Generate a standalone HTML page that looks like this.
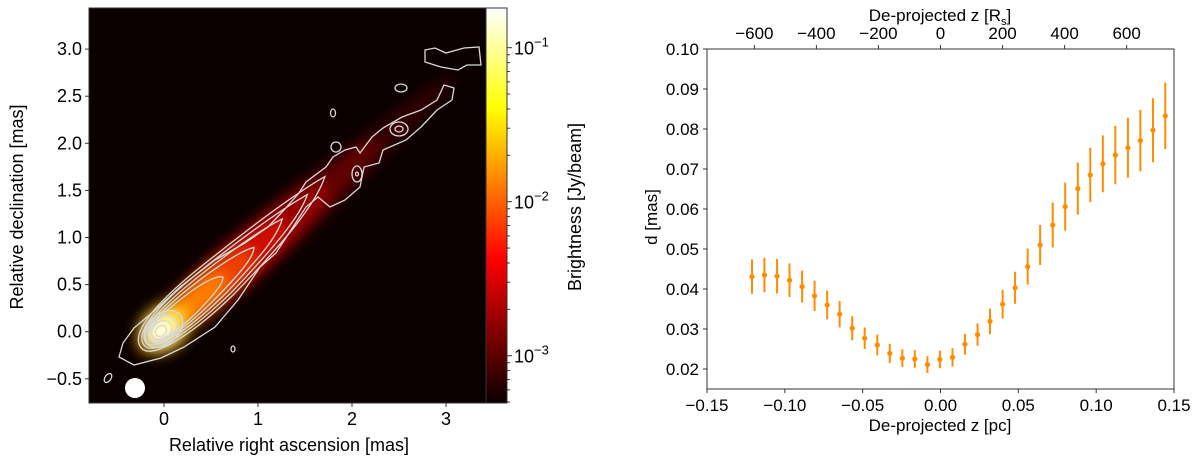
<!DOCTYPE html>
<html><head><meta charset="utf-8"><style>
html,body{margin:0;padding:0;background:#fff;}
svg{display:block;font-family:"Liberation Sans","DejaVu Sans",sans-serif;}
</style></head><body>
<svg id="fig" width="1200" height="465" viewBox="0 0 1200 465" xmlns="http://www.w3.org/2000/svg">
<defs>
<clipPath id="imgclip"><rect x="89" y="8" width="397" height="395"/></clipPath>
<filter id="blur" x="-50%" y="-50%" width="200%" height="200%"><feGaussianBlur stdDeviation="7"/></filter>
<filter id="blur2" x="-50%" y="-50%" width="200%" height="200%"><feGaussianBlur stdDeviation="3"/></filter>
<linearGradient id="hot" x1="0" y1="0" x2="0" y2="1">
<stop offset="0" stop-color="#ffffff"/><stop offset="0.254" stop-color="#ffff00"/>
<stop offset="0.635" stop-color="#ff0000"/><stop offset="1" stop-color="#0a0000"/>
</linearGradient>
</defs>
<g clip-path="url(#imgclip)">
<rect x="89" y="8" width="397" height="395" fill="#0a0000"/>
<g transform="translate(161,331) rotate(-41)" filter="url(#blur)">
<ellipse cx="190" cy="0" rx="200" ry="16" fill="#300000"/>
<ellipse cx="130" cy="0" rx="160" ry="22" fill="#600000"/>
<ellipse cx="100" cy="0" rx="120" ry="22" fill="#9a0000"/>
<ellipse cx="75" cy="0" rx="90" ry="21" fill="#d01000"/>
<ellipse cx="55" cy="0" rx="65" ry="18" fill="#f04000"/>
<ellipse cx="45" cy="0" rx="40" ry="13" fill="#ff8000"/>
<ellipse cx="5" cy="0" rx="30" ry="22" fill="#ffb000"/>
<ellipse cx="2" cy="0" rx="20" ry="16" fill="#ffff50"/>
<ellipse cx="0" cy="0" rx="11" ry="9" fill="#ffffff"/>
</g>
<g filter="url(#blur2)">
<ellipse cx="357" cy="174" rx="5" ry="6" fill="#400000"/>
<ellipse cx="400" cy="129" rx="9" ry="6" fill="#400000"/>
</g>
<g fill="none" stroke="#d8d8d8" stroke-width="1.3">
<polygon points="123,343 134,328 153,312 180,287 215,260 245,243 268,227 284,210 299,193 306,182 326,167 333,157 345,150 356,147 360,153 372,137 383,128 402,117 421,110 437,100 444,85 454,88 452,100 437,110 421,127 406,140 383,150 379,163 364,167 360,187 345,200 330,207 318,197 306,207 291,230 276,253 260,267 238,300 215,327 184,347 161,358 134,365 119,357"/>
<polygon points="425,50 435,48 446,53 464,48 479,47 481,65 467,65 458,70 441,67 425,62"/>
<ellipse cx="357" cy="174" rx="5" ry="8"/>
<ellipse cx="357" cy="174" rx="1.5" ry="2"/>
<ellipse cx="399" cy="129" rx="9" ry="7"/>
<ellipse cx="399" cy="129" rx="4" ry="3"/>
<ellipse cx="333" cy="113" rx="2.5" ry="4"/>
<ellipse cx="401" cy="88" rx="6" ry="4"/>
<ellipse cx="336" cy="147" rx="5" ry="5"/>
<ellipse cx="233" cy="349" rx="2" ry="3"/>
<ellipse cx="108" cy="378" rx="3" ry="5" transform="rotate(35 108 378)"/>
<g transform="translate(161,331) rotate(-41)">
<path d="M-26,0 C-26,-20 20,-25 80,-22 C150,-19 200,-14 225,-9 C200,6 150,14 80,20 C30,23 -26,18 -26,0Z"/>
<path d="M-22,0 C-22,-18 20,-22 80,-19 C140,-16 180,-11 200,-7 C180,5 140,11 80,17 C30,20 -22,16 -22,0Z"/>
<path d="M-18,0 C-18,-16 20,-19 75,-16 C125,-13 150,-9 165,-5 C150,5 125,9 75,14 C30,17 -18,14 -18,0Z"/>
<path d="M-14,0 C-14,-14 20,-16 65,-13 C100,-10 118,-6 125,-2 C118,5 100,8 65,11 C30,14 -14,12 -14,0Z"/>
<path d="M-10,0 C-10,-12 15,-13 50,-10 C70,-8 80,-4 82,0 C78,5 65,7 45,9 C20,11 -10,10 -10,0Z"/>
<ellipse cx="3" cy="0" rx="22" ry="15"/>
<ellipse cx="2" cy="0" rx="16" ry="12"/>
<ellipse cx="1" cy="0" rx="11" ry="8.5"/>
<ellipse cx="0" cy="0" rx="6" ry="5"/>
</g>
</g>
<circle cx="135" cy="388" r="10" fill="#ffffff"/>
</g>
<rect x="89" y="8" width="397" height="395" fill="none" stroke="#333" stroke-width="1"/>
<g id="leftAxes" font-size="18" fill="#000"></g>
<text x="289" y="451" font-size="18" text-anchor="middle">Relative right ascension [mas]</text>
<text transform="translate(23,207) rotate(-90)" font-size="18" text-anchor="middle">Relative declination [mas]</text>
<rect x="486" y="8" width="21" height="395" fill="url(#hot)" stroke="#333" stroke-width="1"/>
<g id="cbAxis" font-size="18"></g>
<text transform="translate(581,207) rotate(-90)" font-size="18" text-anchor="middle">Brightness [Jy/beam]</text>

<rect x="707" y="49" width="467" height="340" fill="none" stroke="#333" stroke-width="1"/>
<g id="rightAxes" font-size="17"></g>
<g id="series"></g>
<text x="940" y="431" font-size="17" text-anchor="middle">De-projected z [pc]</text>
<text x="940" y="21" font-size="17" text-anchor="middle">De-projected z [R<tspan font-size="11" dy="4">s</tspan><tspan dy="-4">]</tspan></text>
<text transform="translate(657,217) rotate(-90)" font-size="17" text-anchor="middle">d [mas]</text>
</svg>
<script>
const zPc = [-0.1211,-0.1131,-0.1050,-0.0970,-0.0889,-0.0809,-0.0728,-0.0648,-0.0567,-0.0487,-0.0406,-0.0326,-0.0245,-0.0165,-0.0084,-0.0004,0.0077,0.0157,0.0238,0.0318,0.0399,0.0479,0.0560,0.0640,0.0721,0.0801,0.0882,0.0962,0.1043,0.1123,0.1204,0.1284,0.1365,0.1444];
const dMas = [0.0431,0.0435,0.0432,0.0422,0.0406,0.0383,0.0360,0.0337,0.0302,0.0277,0.0260,0.0239,0.0227,0.0225,0.0211,0.0224,0.0229,0.0262,0.0286,0.0319,0.0362,0.0403,0.0456,0.0510,0.0560,0.0606,0.0651,0.0685,0.0713,0.0735,0.0753,0.0771,0.0797,0.0833];
const dErr = [0.0043,0.0043,0.0043,0.0042,0.0040,0.0038,0.0036,0.0033,0.0030,0.0027,0.0026,0.0024,0.0022,0.0022,0.0021,0.0022,0.0023,0.0026,0.0028,0.0032,0.0036,0.0040,0.0045,0.0050,0.0056,0.0060,0.0065,0.0068,0.0071,0.0073,0.0075,0.0077,0.0080,0.0083];
const xTicksPc = [-0.15,-0.10,-0.05,0.00,0.05,0.10,0.15];
const xTickLabels = ["\u22120.15","\u22120.10","\u22120.05","0.00","0.05","0.10","0.15"];
const yTicksD = [0.02,0.03,0.04,0.05,0.06,0.07,0.08,0.09,0.10];
const topTicksRs = [-600,-400,-200,0,200,400,600];
const leftXTicks = [0,1,2,3];
const leftYTicks = [-0.5,0.0,0.5,1.0,1.5,2.0,2.5,3.0];
const cbTicksExp = [-1,-2,-3];

const NS = "http://www.w3.org/2000/svg";
function mk(tag, attrs, parent){const e=document.createElementNS(NS,tag);for(const k in attrs)e.setAttribute(k,attrs[k]);parent.appendChild(e);return e;}
const minus = s => s.replace('-', '\u2212');

const X = v => 707 + (v + 0.15) / 0.30 * 467;
const Y = v => 389 - (v - 0.015) / 0.085 * 340;
const RS_PER_PC = 1 / 0.0001993;
const XT = r => X(r / RS_PER_PC);
const ra = document.getElementById('rightAxes');
xTicksPc.forEach((v,i)=>{
  mk('line',{x1:X(v),x2:X(v),y1:389,y2:393,stroke:'#333'},ra);
  const t=mk('text',{x:X(v),y:411,'text-anchor':'middle'},ra);
  t.textContent=xTickLabels[i];
  
  
});
yTicksD.forEach(v=>{
  mk('line',{x1:703,x2:707,y1:Y(v),y2:Y(v),stroke:'#333'},ra);
  const t=mk('text',{x:699,y:Y(v)+6,'text-anchor':'end'},ra);
  t.textContent=v.toFixed(2);
  
  
});
topTicksRs.forEach(v=>{
  mk('line',{x1:XT(v),x2:XT(v),y1:45,y2:49,stroke:'#333'},ra);
  const t=mk('text',{x:XT(v),y:39,'text-anchor':'middle'},ra);
  t.textContent=minus(String(v));
  
  
});
const sg = document.getElementById('series');
zPc.forEach((z,i)=>{
  const g=mk('g',{},sg);
  
  
  mk('line',{x1:X(z),x2:X(z),y1:Y(dMas[i]-dErr[i]),y2:Y(dMas[i]+dErr[i]),stroke:'#ff8c00','stroke-width':2},g);
  mk('circle',{cx:X(z),cy:Y(dMas[i]),r:2.6,fill:'#ff8c00'},g);
});

const LX = v => 164 + 94 * v;
const LY = v => 331.7 - 94.2 * v;
const la = document.getElementById('leftAxes');
leftXTicks.forEach(v=>{
  mk('line',{x1:LX(v),x2:LX(v),y1:403,y2:407,stroke:'#333'},la);
  const t=mk('text',{x:LX(v),y:425,'text-anchor':'middle'},la);
  t.textContent=String(v);
  
  
});
leftYTicks.forEach(v=>{
  mk('line',{x1:85,x2:89,y1:LY(v),y2:LY(v),stroke:'#333'},la);
  const t=mk('text',{x:82,y:LY(v)+6,'text-anchor':'end'},la);
  t.textContent=minus(v.toFixed(1));
  
  
});
const CY = e => 201.7 - (e + 2) * 154;
const cb = document.getElementById('cbAxis');
cbTicksExp.forEach(e=>{
  mk('line',{x1:507,x2:512,y1:CY(e),y2:CY(e),stroke:'#333'},cb);
  const t=mk('text',{x:514,y:CY(e)+7},cb);
  
  
  t.textContent='10';
  const s=mk('tspan',{'font-size':'13',dy:'-8'},t); s.textContent='\u2212'+(-e);
});
for(let e=-4;e<=-1;e++){for(let m=2;m<=9;m++){const y=CY(e+Math.log10(m));if(y>8&&y<403)mk('line',{x1:507,x2:510,y1:y,y2:y,stroke:'#333'},cb);}}
</script>
</body></html>
